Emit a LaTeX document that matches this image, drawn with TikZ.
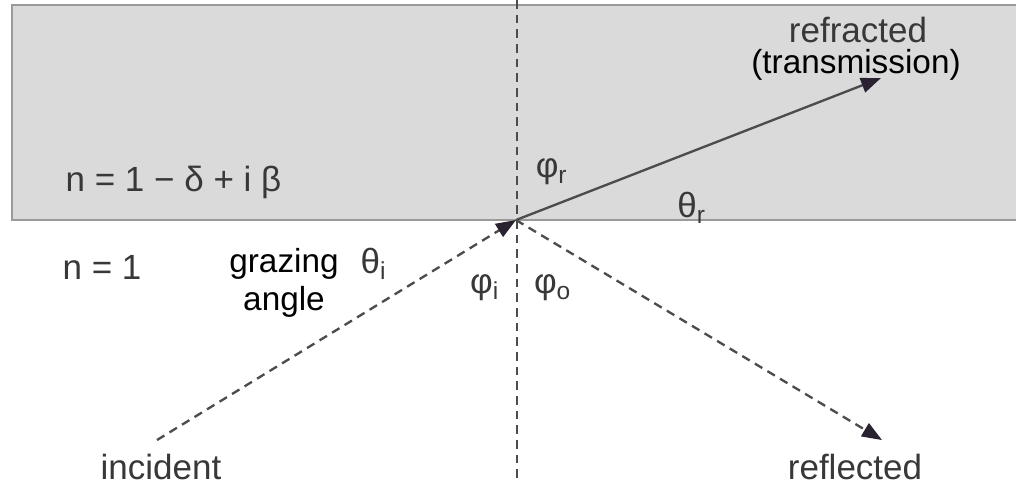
\documentclass[tikz,border=0pt]{standalone}
\usepackage{fontspec}
\setmainfont{Liberation Sans}
\usetikzlibrary{arrows.meta}
\definecolor{medium}{HTML}{DADADA}
\definecolor{edge}{HTML}{9A9A9A}
\definecolor{ray}{HTML}{4C4C4C}
\definecolor{tip}{HTML}{2A2230}
\definecolor{txt}{HTML}{383838}
\tikzset{
  lbl/.style={font=\fontsize{10.5}{12}\selectfont, text=txt, inner sep=0pt},
  blk/.style={font=\fontsize{10}{11.5}\selectfont, text=black, inner sep=0pt, align=center},
  raydash/.style={draw=ray, line width=0.7pt, dash pattern=on 2.6pt off 1.8pt},
  raysolid/.style={draw=ray, line width=0.7pt},
  tipstyle/.style={-{Triangle[length=6pt,width=4.5pt,fill=tip,color=tip]}}
}
\begin{document}
\begin{tikzpicture}[x=0.3pt,y=-0.3pt]
\useasboundingbox (0,0) rectangle (1016,486);
\fill[white] (0,0) rectangle (1016,486);
% medium
\draw[fill=medium, draw=edge, line width=0.6pt] (12,5) rectangle (1030,220);
% points
\coordinate (O) at (516,220);
\coordinate (top) at (517,0);
\coordinate (bot) at (517,478);
\coordinate (inc) at (157,440);
\coordinate (refr) at (881,78);
\coordinate (refl) at (882,440);
% normal
\draw[raydash] (top) -- (bot);
% rays
\draw[raydash, tipstyle] (inc) -- (O);
\draw[raysolid, tipstyle] (O) -- (refr);
\draw[raydash, tipstyle] (O) -- (refl);
% labels
\node[lbl, anchor=west] (nmed) at (65,182) {n = 1 − δ + i β};
\node[lbl, anchor=west] (nair) at (62,267) {n = 1};
\node[blk] (graz) at (284,283) {grazing\\angle};
\node[lbl] (thi) at (374,264) {θ\textsubscript{i}};
\node[lbl] (phr) at (552,172) {φ\textsubscript{r}};
\node[lbl] (thr) at (692,208) {θ\textsubscript{r}};
\node[lbl] (phi) at (485,288) {φ\textsubscript{i}};
\node[lbl] (pho) at (553,288) {φ\textsubscript{o}};
\node[lbl] (refrl) at (858,30) {refracted};
\node[blk] (trans) at (856,65) {(transmission)};
\node[lbl] (incl) at (161,467) {incident};
\node[lbl] (refll) at (855,467) {reflected};
\end{tikzpicture}
\end{document}
